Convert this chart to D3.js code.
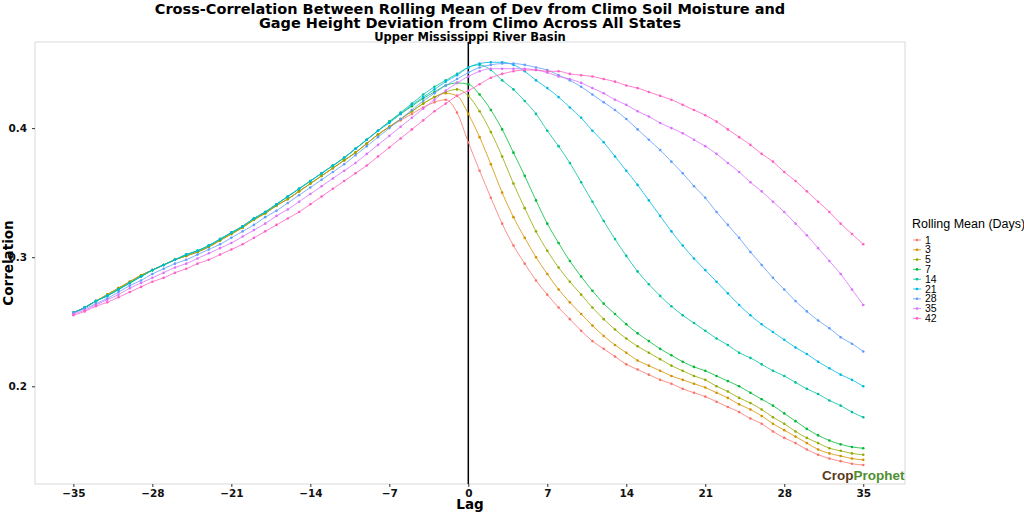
<!DOCTYPE html>
<html><head><meta charset="utf-8">
<script src="https://cdn.jsdelivr.net/npm/d3@7"></script>
<style>body{margin:0;background:#fff}svg{font-family:"DejaVu Sans",sans-serif}</style>
</head><body><svg id="c" width="1024" height="512"></svg>
<script>
const lags = d3.range(-35, 36);
const seriesNames = ["1","3","5","7","14","21","28","35","42"];
const colors = ["#F8766D","#D39200","#93AA00","#00BA38","#00C19F","#00B9E3","#619CFF","#DB72FB","#FF61C3"];
const xTicks = [-35,-28,-21,-14,-7,0,7,14,21,28,35];
const yTicks = [0.2,0.3,0.4];
const s1 = [.257,.261,.266,.271,.276,.281,.286,.290,.294,.298,.301,.304,.308,.313,.318,.323,.329,.334,.340,.345,.351,.357,.363,.369,.375,.381,.388,.395,.401,.406,.411,.416,.420,.422,.412,
 .389,.367,.346,.326,.309,.295,.282,.271,.261,.252,.243,.235,.229,.223,.217,.213,.209,.205,.202,.198,.195,.192,.188,.184,.180,.175,.171,.165,.160,.156,.151,.147,.144,.142,.140,.139];
const s3 = [.257,.261,.266,.271,.276,.281,.286,.290,.294,.298,.301,.304,.308,.313,.318,.323,.329,.334,.340,.345,.351,.357,.363,.369,.375,.381,.388,.395,.401,.407,.413,.419,.424,.427,.425,
 .411,.393,.372,.350,.331,.315,.300,.287,.275,.265,.256,.247,.239,.232,.226,.220,.216,.212,.208,.205,.202,.199,.195,.191,.186,.182,.177,.171,.166,.161,.156,.151,.148,.146,.144,.143];
const s5 = [.257,.261,.266,.271,.276,.281,.286,.290,.294,.298,.301,.304,.308,.313,.318,.323,.329,.334,.340,.345,.351,.357,.363,.369,.375,.381,.388,.395,.401,.407,.413,.419,.424,.428,.430,
 .425,.413,.397,.378,.357,.338,.320,.305,.292,.281,.271,.261,.252,.244,.237,.231,.226,.221,.216,.212,.208,.205,.200,.196,.191,.187,.182,.176,.171,.165,.160,.156,.152,.150,.148,.147];
const s7 = [.257,.261,.266,.270,.275,.280,.285,.290,.294,.298,.302,.305,.309,.314,.319,.324,.330,.335,.341,.347,.353,.359,.365,.371,.377,.384,.391,.398,.405,.411,.417,.423,.428,.433,.435,
 .434,.426,.414,.399,.381,.363,.344,.326,.311,.297,.285,.274,.264,.256,.248,.241,.235,.229,.224,.219,.215,.212,.208,.204,.200,.195,.190,.185,.179,.173,.167,.162,.158,.155,.153,.152];
const s14 = [.257,.261,.266,.270,.275,.280,.285,.290,.294,.298,.302,.305,.309,.314,.319,.324,.330,.335,.341,.347,.353,.359,.365,.371,.377,.384,.391,.398,.405,.412,.419,.426,.432,.437,.442,
 .447,.449,.445,.437,.430,.421,.411,.398,.386,.373,.358,.343,.328,.314,.301,.289,.279,.270,.262,.255,.249,.243,.237,.232,.226,.222,.217,.212,.208,.203,.198,.194,.189,.185,.180,.176];
const s21 = [.257,.261,.266,.270,.275,.280,.285,.290,.294,.298,.302,.305,.309,.314,.319,.324,.330,.335,.341,.347,.353,.359,.365,.371,.377,.384,.391,.398,.404,.411,.418,.424,.430,.436,.441,
 .447,.450,.451,.451,.449,.444,.437,.431,.424,.416,.408,.398,.389,.378,.367,.356,.344,.332,.320,.309,.299,.290,.281,.272,.263,.255,.248,.242,.236,.230,.225,.219,.214,.209,.205,.200];
const s28 = [.257,.260,.264,.268,.273,.278,.282,.287,.291,.295,.298,.302,.306,.310,.315,.320,.325,.331,.336,.342,.348,.354,.360,.366,.372,.379,.386,.393,.400,.407,.414,.421,.427,.433,.438,
 .443,.447,.449,.450,.450,.449,.447,.445,.441,.437,.432,.426,.420,.414,.407,.399,.391,.383,.374,.365,.355,.346,.335,.325,.315,.304,.294,.284,.275,.266,.258,.251,.245,.238,.233,.227];
const s35 = [.256,.259,.263,.267,.271,.276,.280,.284,.288,.292,.295,.299,.303,.307,.311,.316,.321,.326,.332,.337,.343,.349,.355,.361,.367,.373,.380,.387,.394,.401,.408,.415,.422,.429,.435,
 .440,.444,.446,.446,.446,.446,.445,.443,.440,.438,.435,.431,.427,.422,.418,.413,.409,.404,.400,.396,.391,.386,.380,.373,.366,.358,.351,.343,.335,.326,.317,.307,.297,.287,.275,.263];
const s42 = [.255,.258,.262,.265,.269,.273,.277,.281,.284,.288,.291,.295,.298,.302,.306,.310,.315,.320,.325,.330,.335,.341,.347,.353,.359,.365,.371,.378,.385,.392,.399,.406,.413,.419,.425,
 .429,.434,.439,.442,.444,.445,.445,.444,.444,.442,.441,.440,.438,.436,.433,.431,.428,.425,.422,.418,.414,.410,.405,.399,.393,.387,.380,.374,.366,.359,.351,.343,.335,.326,.318,.310];
const values = [s1,s3,s5,s7,s14,s21,s28,s35,s42];

const svg = d3.select("#c");
const L=35,R=905,T=42,B=484;
const x = d3.scaleLinear().domain([-38.4,38.7]).range([L,R]);
const y = d3.scaleLinear().domain([0.1243,0.4667]).range([B,T]);

svg.append("rect").attr("x",L).attr("y",T).attr("width",R-L).attr("height",B-T)
  .attr("fill","none").attr("stroke","#cfcfcf").attr("stroke-width",0.8);

const xa = svg.append("g").attr("transform",`translate(0,${B})`)
  .call(d3.axisBottom(x).tickValues(xTicks).tickSize(3).tickPadding(3));
const ya = svg.append("g").attr("transform",`translate(${L},0)`)
  .call(d3.axisLeft(y).tickValues(yTicks).tickSize(3).tickPadding(5).tickFormat(d3.format(".1f")));
[xa,ya].forEach(a=>{a.select(".domain").remove();
  a.selectAll("line").attr("stroke","#333");
  a.selectAll("text").attr("font-size",10.5).attr("font-weight","bold").attr("fill","#111")
   .attr("font-family","DejaVu Sans");});

svg.append("line").attr("x1",x(0)).attr("x2",x(0)).attr("y1",T).attr("y2",B)
  .attr("stroke","#000").attr("stroke-width",1.5);

const line = d3.line().x((d,i)=>x(lags[i])).y(d=>y(d)).curve(d3.curveMonotoneX);
values.forEach((vals,k)=>{
  svg.append("path").datum(vals).attr("d",line).attr("fill","none")
    .attr("stroke",colors[k]).attr("stroke-width",0.8);
  svg.append("g").selectAll("circle").data(vals).join("circle")
    .attr("cx",(d,i)=>x(lags[i])).attr("cy",d=>y(d)).attr("r",1.3).attr("fill",colors[k]);
});

svg.append("text").attr("x",470).attr("y",14).attr("text-anchor","middle")
  .attr("font-size",14.5).attr("font-weight","bold")
  .text("Cross-Correlation Between Rolling Mean of Dev from Climo Soil Moisture and");
svg.append("text").attr("x",470).attr("y",28).attr("text-anchor","middle")
  .attr("font-size",14.5).attr("font-weight","bold")
  .text("Gage Height Deviation from Climo Across All States");
svg.append("text").attr("x",470).attr("y",41).attr("text-anchor","middle")
  .attr("font-size",11.5).attr("font-weight","bold").text("Upper Mississippi River Basin");
svg.append("text").attr("x",470).attr("y",509).attr("text-anchor","middle")
  .attr("font-size",13.5).attr("font-weight","bold").text("Lag");
svg.append("text").attr("transform","translate(13,263) rotate(-90)").attr("text-anchor","middle")
  .attr("font-size",13.5).attr("font-weight","bold").text("Correlation");

const lg = svg.append("g").attr("transform","translate(912,228)");
lg.append("text").attr("x",0).attr("y",0).attr("font-size",12.5).attr("font-family","Liberation Sans, Arial")
  .text("Rolling Mean (Days)");
seriesNames.forEach((n,k)=>{
  const g = lg.append("g").attr("transform",`translate(0,${12+k*9.8})`);
  g.append("line").attr("x1",1).attr("x2",9).attr("y1",0).attr("y2",0).attr("stroke",colors[k]).attr("stroke-width",0.8);
  g.append("circle").attr("cx",5).attr("cy",0).attr("r",1.3).attr("fill",colors[k]);
  g.append("text").attr("x",13).attr("y",3.5).attr("font-size",10.5).attr("font-family","Liberation Sans, Arial").text(n);
});

const logo = svg.append("text").attr("x",822).attr("y",480).attr("font-size",13.5).attr("font-weight","bold")
  .attr("font-family","Liberation Sans, Arial");
logo.append("tspan").attr("fill","#5b3a1a").text("Crop");
logo.append("tspan").attr("fill","#4f8f2f").text("Prophet");
</script></body></html>
